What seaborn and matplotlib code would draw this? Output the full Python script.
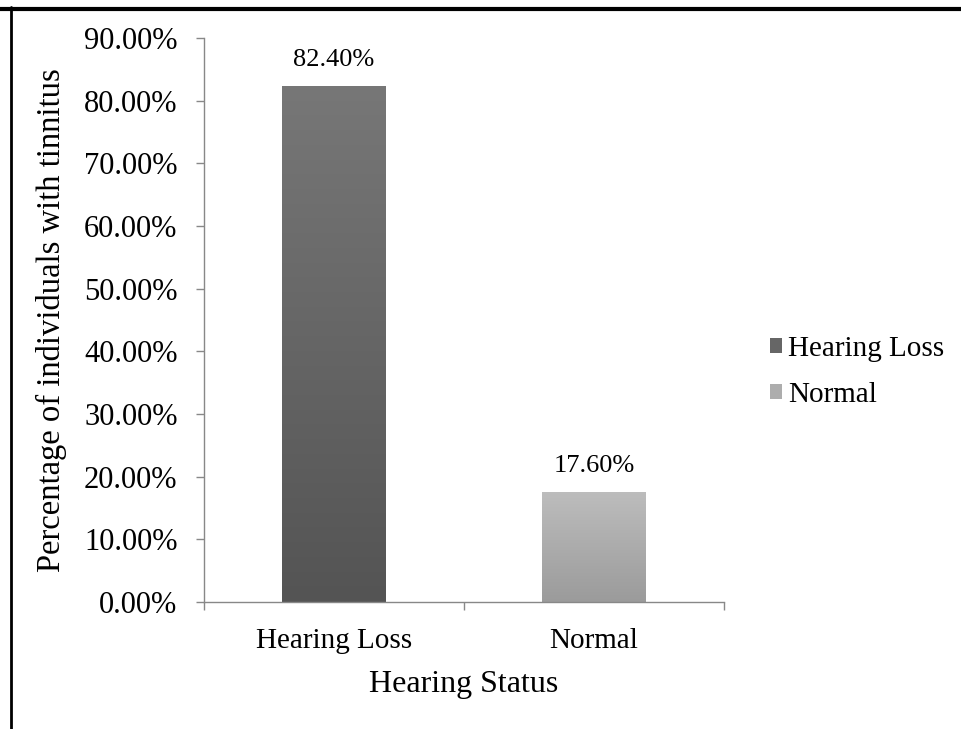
import numpy as np
import pandas as pd
import matplotlib
matplotlib.use("Agg")
import matplotlib.pyplot as plt
from matplotlib.lines import Line2D
from matplotlib.patches import Patch
from matplotlib.colors import LinearSegmentedColormap
import seaborn as sns

# Data
categories = ["Hearing Loss", "Normal"]
percentages = [82.40, 17.60]
y_ticks = [0, 10, 20, 30, 40, 50, 60, 70, 80, 90]

# Gradient colours (top, bottom) for each bar
top_colors = ["#777777", "#bdbdbd"]
bottom_colors = ["#545454", "#9b9b9b"]
legend_colors = ["#666666", "#adadad"]

sns.set_theme(style="white")
plt.rcParams["font.family"] = ["Liberation Serif", "DejaVu Serif"]
plt.rcParams["text.color"] = "black"

fig = plt.figure(figsize=(9.62, 7.29), dpi=100)
ax = fig.add_axes([204 / 962, 1 - 602 / 729, 520 / 962, 564 / 729])

df = pd.DataFrame({"status": categories, "pct": percentages})
sns.barplot(data=df, x="status", y="pct", hue="status", palette=legend_colors,
            width=0.4, legend=False, ax=ax, linewidth=0)

# Replace flat fills with vertical gradients clipped to each bar
for patch, tc, bc in zip(ax.patches, top_colors, bottom_colors):
    x0, y0 = patch.get_x(), patch.get_y()
    w, h = patch.get_width(), patch.get_height()
    cmap = LinearSegmentedColormap.from_list("g", [bc, tc])
    grad = np.linspace(0, 1, 256).reshape(-1, 1)
    im = ax.imshow(grad, cmap=cmap, aspect="auto", origin="lower",
                   extent=[x0, x0 + w, y0, y0 + h], zorder=patch.get_zorder() + 0.1)
    im.set_clip_path(patch)
    patch.set_facecolor("none")
ax.set_aspect("auto")
ax.set_xlim(-0.5, 1.5)
ax.set_ylim(0, 90)

# Value labels above bars
for i, v in enumerate(percentages):
    ax.text(i, v + 2.4, f"{v:.2f}%", ha="center", va="bottom", fontsize=19, color="black")

ax.set_yticks(y_ticks)
ax.set_yticklabels([f"{t:.2f}%" for t in y_ticks], fontsize=22)
ax.set_xticks([0, 1])
ax.set_xticklabels(categories, fontsize=21)
ax.set_xticks([-0.5, 0.5, 1.5], minor=True)

ax.tick_params(axis="y", which="major", left=True, length=6, width=1, color="#888888",
               pad=13, labelcolor="black")
ax.tick_params(axis="x", which="major", bottom=False, pad=13, labelcolor="black")
ax.tick_params(axis="x", which="minor", bottom=True, length=6, width=1, color="#888888")

for side in ["top", "right"]:
    ax.spines[side].set_visible(False)
for side in ["left", "bottom"]:
    ax.spines[side].set_color("#888888")
    ax.spines[side].set_linewidth(1)

ax.set_xlabel("Hearing Status", fontsize=23, labelpad=11, color="black")
ax.set_ylabel("Percentage of individuals with tinnitus", fontsize=23.5, labelpad=12, color="black")

handles = [Patch(facecolor=c, edgecolor="none") for c in legend_colors]
fig.legend(handles, categories, loc="center left", bbox_to_anchor=(744 / 962, 1 - 372 / 729),
           frameon=False, fontsize=21, handlelength=0.4, handleheight=0.4,
           handletextpad=0.2, labelspacing=0.68, labelcolor="black")

# Page frame lines along the top and left edges
fig.add_artist(Line2D([0, 1], [1 - 9 / 729, 1 - 9 / 729], transform=fig.transFigure,
                      color="black", linewidth=3))
fig.add_artist(Line2D([11 / 962, 11 / 962], [0, 1 - 7 / 729], transform=fig.transFigure,
                      color="black", linewidth=2))

fig.savefig("out.png", dpi=100, facecolor="white")
